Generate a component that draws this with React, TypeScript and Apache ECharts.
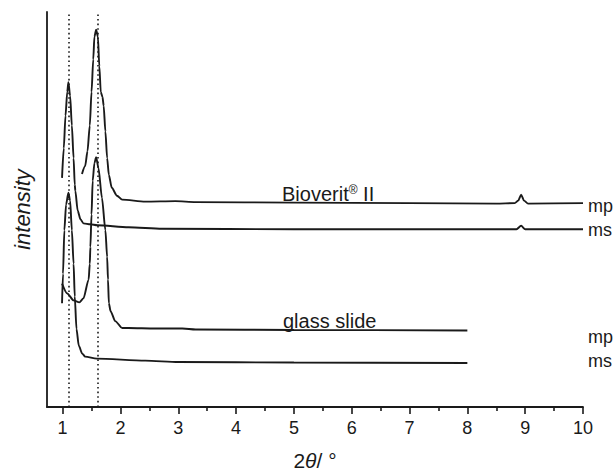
import React, { useEffect, useRef } from "react";
import * as echarts from "echarts";

// x-axis ticks
const xMajorTicks = [1, 2, 3, 4, 5, 6, 7, 8, 9, 10];
const xMinorTicks = [1.5, 2.5, 3.5, 4.5, 5.5, 6.5, 7.5, 8.5, 9.5];
const refLines = [1.1, 1.6];

// Bioverit II, ms
const bioMsX = [0.99, 1.02, 1.05, 1.08, 1.1, 1.13, 1.16, 1.19, 1.21, 1.22, 1.26, 1.31, 1.36, 1.48, 1.6, 2.14, 2.72, 5.0, 7.0, 8.85, 8.93, 9.0, 10];
const bioMsY = [232, 262, 295, 319, 329, 315, 285, 252, 225, 219, 199, 190, 186, 185, 184, 182, 180.5, 180, 180, 180, 183.5, 180, 180];

// Bioverit II, mp
const bioMpX = [1.335, 1.39, 1.43, 1.47, 1.5, 1.53, 1.55, 1.58, 1.61, 1.635, 1.66, 1.69, 1.71, 1.74, 1.77, 1.8, 1.85, 1.94, 2.03, 2.43, 2.95, 3.3, 5.0, 7.0, 8.5, 8.82, 8.88, 8.93, 8.98, 9.05, 10];
const bioMpY = [236, 244, 259, 285, 319, 352, 375, 382, 375, 345, 319, 314, 305, 279, 252, 235, 222, 214, 210, 208, 208.5, 207.5, 207, 206.5, 206, 206.5, 209, 215, 209, 206, 206.5];

// glass slide, mp
const glassMpX = [0.99, 1.08, 1.19, 1.29, 1.36, 1.45, 1.47, 1.48, 1.5, 1.52, 1.55, 1.58, 1.62, 1.68, 1.74, 1.77, 1.785, 1.8, 1.83, 1.91, 2.03, 2.14, 2.6, 3.07, 3.3, 5.0, 8.0];
const glassMpY = [125, 115, 108, 106, 110, 129, 145, 162, 195, 229, 247, 253, 242, 212, 179, 152, 129, 105, 97, 87, 80, 80, 79.5, 79.5, 78.5, 78, 77.5];

// glass slide, ms
const glassMsX = [0.99, 1.007, 1.03, 1.06, 1.1, 1.13, 1.16, 1.19, 1.21, 1.24, 1.28, 1.34, 1.39, 1.59, 2.43, 3.0, 5.0, 8.0];
const glassMsY = [105, 135, 179, 205, 217, 209, 179, 145, 112, 79, 62, 54, 51, 49, 47, 45.5, 45, 44.5];

const FONT = "'Liberation Sans', Arial, Helvetica, sans-serif";
const INK = "#1a1a1a";

const zip = (xs: number[], ys: number[]) => xs.map((x, i) => [x, ys[i]]);

export default function App() {
  const ref = useRef<HTMLDivElement>(null);
  useEffect(() => {
    const chart = echarts.init(ref.current!, null, { renderer: "svg" });
    const lineSeries = (name: string, xs: number[], ys: number[], extra: any = {}) => ({
      name,
      type: "line",
      xAxisIndex: 0,
      yAxisIndex: 0,
      data: zip(xs, ys),
      showSymbol: false,
      symbol: "none",
      smooth: 0.25,
      smoothMonotone: "x",
      lineStyle: { color: INK, width: 1.9 },
      silent: true,
      ...extra,
    });
    chart.setOption({
      animation: false,
      backgroundColor: "#ffffff",
      grid: { left: 47, right: 32, top: 12, bottom: 64, containLabel: false },
      xAxis: [
        {
          type: "value",
          min: 0.73,
          max: 10,
          position: "bottom",
          axisLine: { show: true, onZero: false, lineStyle: { color: INK, width: 1.8 } },
          axisTick: { show: true, customValues: xMajorTicks, length: 7, inside: false, lineStyle: { color: INK, width: 1.6 } },
          axisLabel: { show: true, customValues: xMajorTicks, fontSize: 18, fontFamily: FONT, color: INK, margin: 12 },
          splitLine: { show: false },
          name: "2{i|θ}/ °",
          nameLocation: "middle",
          nameGap: 43,
          nameTextStyle: {
            fontSize: 21,
            fontFamily: FONT,
            color: INK,
            rich: { i: { fontStyle: "italic", fontSize: 21, fontFamily: FONT, color: INK } },
          },
        },
        {
          type: "value",
          min: 0.73,
          max: 10,
          position: "bottom",
          offset: 0,
          axisLine: { show: false, onZero: false },
          axisTick: { show: true, customValues: xMinorTicks, length: 4, inside: false, lineStyle: { color: INK, width: 1.6 } },
          axisLabel: { show: false },
          splitLine: { show: false },
        },
      ],
      yAxis: {
        type: "value",
        min: 0,
        max: 400,
        axisLine: { show: true, onZero: false, lineStyle: { color: INK, width: 1.8 } },
        axisTick: { show: false },
        axisLabel: { show: false },
        splitLine: { show: false },
        name: "intensity",
        nameLocation: "middle",
        nameGap: 14,
        nameTextStyle: { fontSize: 22, fontStyle: "italic", fontFamily: FONT, color: INK },
      },
      series: [
        lineSeries("Bioverit II ms", bioMsX, bioMsY, {
          markLine: {
            silent: true,
            symbol: "none",
            label: { show: false },
            lineStyle: { type: [1.6, 3], color: INK, width: 1.6 },
            data: refLines.map((v) => ({ xAxis: v })),
          },
        }),
        lineSeries("Bioverit II mp", bioMpX, bioMpY),
        lineSeries("glass slide mp", glassMpX, glassMpY),
        lineSeries("glass slide ms", glassMsX, glassMsY),
      ],
      graphic: [
        {
          type: "text",
          x: 282,
          y: 194,
          style: {
            text: "Bioverit{s|®} II",
            fontSize: 20,
            fontFamily: FONT,
            fill: INK,
            verticalAlign: "middle",
            align: "left",
            rich: { s: { fontSize: 12, fontFamily: FONT, fill: INK, verticalAlign: "top" } },
          },
        },
        {
          type: "text",
          x: 283,
          y: 321,
          style: { text: "glass slide", fontSize: 20, fontFamily: FONT, fill: INK, verticalAlign: "middle", align: "left" },
        },
        { type: "text", x: 588, y: 206, style: { text: "mp", fontSize: 18, fontFamily: FONT, fill: INK, verticalAlign: "middle" } },
        { type: "text", x: 588, y: 229.5, style: { text: "ms", fontSize: 18, fontFamily: FONT, fill: INK, verticalAlign: "middle" } },
        { type: "text", x: 588, y: 336.5, style: { text: "mp", fontSize: 18, fontFamily: FONT, fill: INK, verticalAlign: "middle" } },
        { type: "text", x: 588, y: 360.5, style: { text: "ms", fontSize: 18, fontFamily: FONT, fill: INK, verticalAlign: "middle" } },
      ],
    });
    return () => chart.dispose();
  }, []);
  return <div ref={ref} style={{ position: "fixed", left: 0, top: 0, width: 615, height: 476 }} />;
}
